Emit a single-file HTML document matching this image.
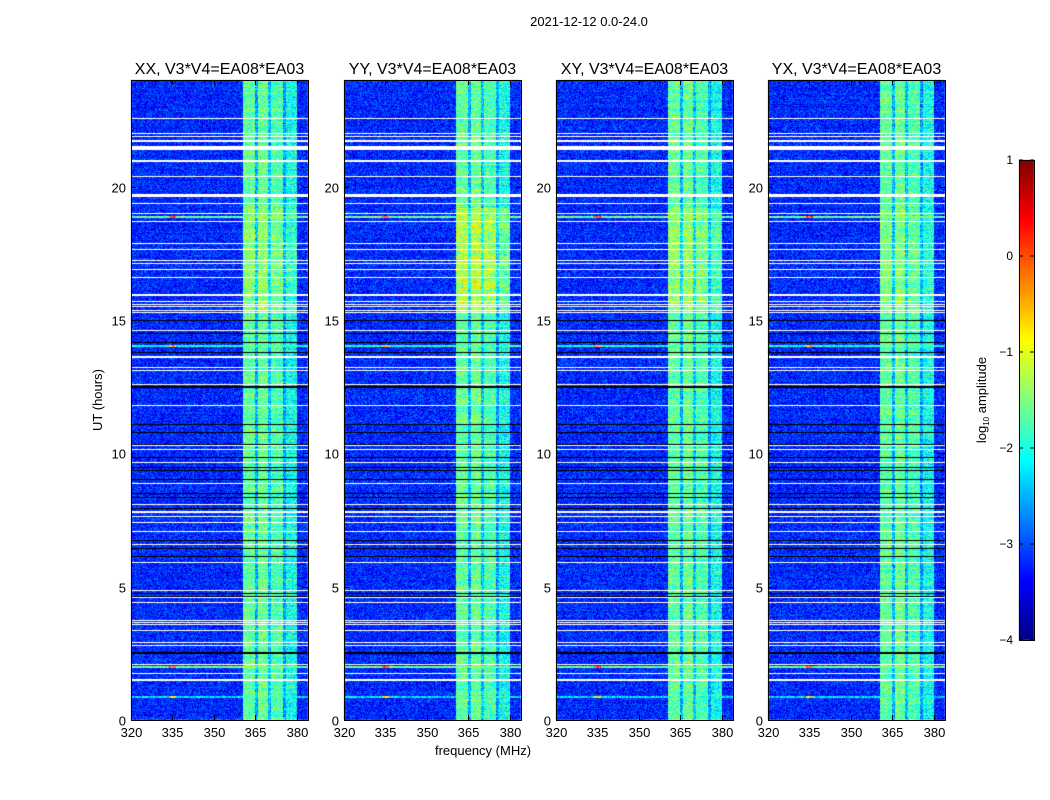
<!DOCTYPE html>
<html><head><meta charset="utf-8"><style>
body{margin:0;background:#fff;width:1050px;height:800px;overflow:hidden;position:relative;font-family:"Liberation Sans",sans-serif}
canvas,svg{position:absolute;left:0;top:0}
</style></head><body>
<canvas id="cv" width="1050" height="800"></canvas>
<svg id="sv" width="1050" height="800"></svg>
<script>
const panels=["XX, V3*V4=EA08*EA03","YY, V3*V4=EA08*EA03","XY, V3*V4=EA08*EA03","YX, V3*V4=EA08*EA03"];
const panelBoost=[0.2,0.4,0.25,0.1];
const xTicks=[320,335,350,365,380];
const yTicks=[0,5,10,15,20];
const cbTicks=[1,0,-1,-2,-3,-4];
const flaggedHours=[22.56,22.00,21.87,21.75,21.68,21.46,20.98,20.39,19.66,19.38,19.00,18.71,17.88,17.63,17.25,17.13,16.90,16.60,15.92,15.69,15.60,15.50,15.35,15.27,14.60,13.63,13.23,13.09,12.57,11.80,10.29,10.15,9.66,8.86,8.10,7.81,7.65,7.41,7.06,6.59,5.89,4.85,4.60,4.40,3.75,3.65,3.57,3.35,2.90,2.81,2.10,1.75,1.50];
const flaggedWidths=[0.055,0.055,0.055,0.055,0.055,0.15,0.08,0.055,0.11,0.055,0.055,0.055,0.055,0.055,0.055,0.055,0.055,0.055,0.08,0.055,0.055,0.055,0.055,0.055,0.055,0.07,0.055,0.055,0.055,0.055,0.055,0.055,0.055,0.055,0.055,0.07,0.055,0.055,0.055,0.055,0.055,0.055,0.055,0.055,0.055,0.055,0.055,0.055,0.055,0.055,0.055,0.055,0.08];
const darkHours=[15.00,14.50,14.16,13.81,12.54,12.50,11.10,10.79,10.34,9.87,9.48,9.37,9.05,8.52,8.35,7.94,6.75,6.44,6.15,4.75,4.65,2.56,2.50];
const rfiHours=[18.87,14.03,2.0,0.86];
const rfiLevels=[-1.6,-2.0,-1.6,-2.3];
const bandStart=[360.5,365,366,369.5,370.5,375,376];
const bandEnd=[365,366,369.5,370.5,375,376,380];
const bandLevel=[-1.65,-2.5,-1.6,-2.4,-1.75,-2.6,-2.05];
const boostStart=15.3, boostEnd=19.2;
const bgLevel=-3.2;

const F0=320,F1=384,H0=0,H1=24;
const PX=[131,344,556,768],PY=80,PW=177,PH=640;
function xs(i,f){return PX[i]+(f-F0)/(F1-F0)*PW;}
function ys(h){return PY+PH-(h-H0)/(H1-H0)*PH;}
function jet(t){t=Math.max(0,Math.min(1,t));const c=v=>Math.round(255*Math.max(0,Math.min(1,v)));return [c(1.5-Math.abs(4*t-3)),c(1.5-Math.abs(4*t-2)),c(1.5-Math.abs(4*t-1))];}
function hash(a,b,c){let h=(a*374761393+b*668265263+c*2147483647)|0;h=(h^(h>>>13))*1274126177|0;return ((h^(h>>>16))>>>0)/4294967296;}
const cv=document.getElementById('cv'),ctx=cv.getContext('2d');
for(let i=0;i<4;i++){
 const img=ctx.createImageData(PW,PH);
 for(let py=0;py<PH;py++){
  const h=H1-(py+0.5)/PH*(H1-H0);
  const rowN=(hash(py,7,i)-0.5)*0.3;
  for(let px=0;px<PW;px++){
   const f=F0+(px+0.5)/PW*(F1-F0);
   let v=bgLevel+rowN*0.5+(hash(px,py,i)-0.5)*0.9;
   for(let k=0;k<bandStart.length;k++){if(f>=bandStart[k]&&f<bandEnd[k]){v=bandLevel[k]+(hash(px,py,i+9)-0.5)*1.0+rowN;if(h>boostStart&&h<boostEnd)v+=panelBoost[i]*(0.5+hash(px>>2,py>>2,i+3));}}
   for(let k=0;k<rfiHours.length;k++){if(Math.abs(h-rfiHours[k])<0.04){v=Math.max(v,rfiLevels[k]+(hash(px,k,i)-0.5)*0.8+(Math.abs(f-335)<1.2?1.5:0));}}
   const c=jet((v+4)/5);const o=(py*PW+px)*4;img.data[o]=c[0];img.data[o+1]=c[1];img.data[o+2]=c[2];img.data[o+3]=255;
  }
 }
 ctx.putImageData(img,PX[i],PY);
 ctx.fillStyle='#000';
 darkHours.forEach(hh=>ctx.fillRect(PX[i],Math.round(ys(hh)),PW,1));
 ctx.fillStyle='#fff';
 flaggedHours.forEach((hh,k)=>{const w=Math.max(1,Math.round(flaggedWidths[k]*PH/24));ctx.fillRect(PX[i],Math.round(ys(hh)-w/2),PW,w);});
}
const CX=1019,CY=160,CW=15,CH=480;
for(let y=0;y<CH;y++){const c=jet(1-y/CH);ctx.fillStyle=`rgb(${c[0]},${c[1]},${c[2]})`;ctx.fillRect(CX,CY+y,CW,1);}

const NS='http://www.w3.org/2000/svg',sv=document.getElementById('sv');
function el(tag,attrs,txt){const e=document.createElementNS(NS,tag);for(const k in attrs)e.setAttribute(k,attrs[k]);if(txt!==undefined)e.textContent=txt;sv.appendChild(e);return e;}
let t=el('text',{x:589,y:26,'text-anchor':'middle','font-size':13},'2021-12-12 0.0-24.0');


for(let i=0;i<4;i++){
 let r=el('rect',{x:PX[i]+0.5,y:PY+0.5,width:PW,height:PH,fill:'none',stroke:'#000','stroke-width':1});
 
 
 let tt=el('text',{x:PX[i]+PW/2,y:74,'text-anchor':'middle','font-size':16},panels[i]);
 
 
 xTicks.forEach(v=>{const x=Math.round(xs(i,v))+0.5;
  el('line',{x1:x,x2:x,y1:PY+PH,y2:PY+PH-5,stroke:'#000'});el('line',{x1:x,x2:x,y1:PY,y2:PY+5,stroke:'#000'});
  const l=el('text',{x:x,y:PY+PH+17,'text-anchor':'middle','font-size':13},v);
  
  });
 yTicks.forEach(v=>{const y=Math.round(ys(v))+0.5;
  el('line',{x1:PX[i],x2:PX[i]+5,y1:y,y2:y,stroke:'#000'});el('line',{x1:PX[i]+PW,x2:PX[i]+PW-5,y1:y,y2:y,stroke:'#000'});
  const l=el('text',{x:PX[i]-5,y:y+5,'text-anchor':'end','font-size':13},v);
  
  });
}
t=el('text',{x:483,y:755,'text-anchor':'middle','font-size':13},'frequency (MHz)');


t=el('text',{x:102,y:400,'text-anchor':'middle','font-size':13,transform:'rotate(-90 102 400)'},'UT (hours)');


let cb=el('rect',{x:CX+0.5,y:CY+0.5,width:CW,height:CH,fill:'none',stroke:'#000'});


cbTicks.forEach(v=>{const y=CY+(1-v)/5*CH;
 el('line',{x1:CX,x2:CX+4,y1:y,y2:y,stroke:'#000'});el('line',{x1:CX+CW,x2:CX+CW-4,y1:y,y2:y,stroke:'#000'});
 const l=el('text',{x:1013,y:y+4,'text-anchor':'end','font-size':12},v<0?'\u2212'+(-v):v);
 
 });
t=el('text',{x:986,y:400,'text-anchor':'middle','font-size':13,transform:'rotate(-90 986 400)'});
t.innerHTML='log<tspan font-size="8" dy="3">10</tspan><tspan dy="-3"> amplitude</tspan>';


</script></body></html>
